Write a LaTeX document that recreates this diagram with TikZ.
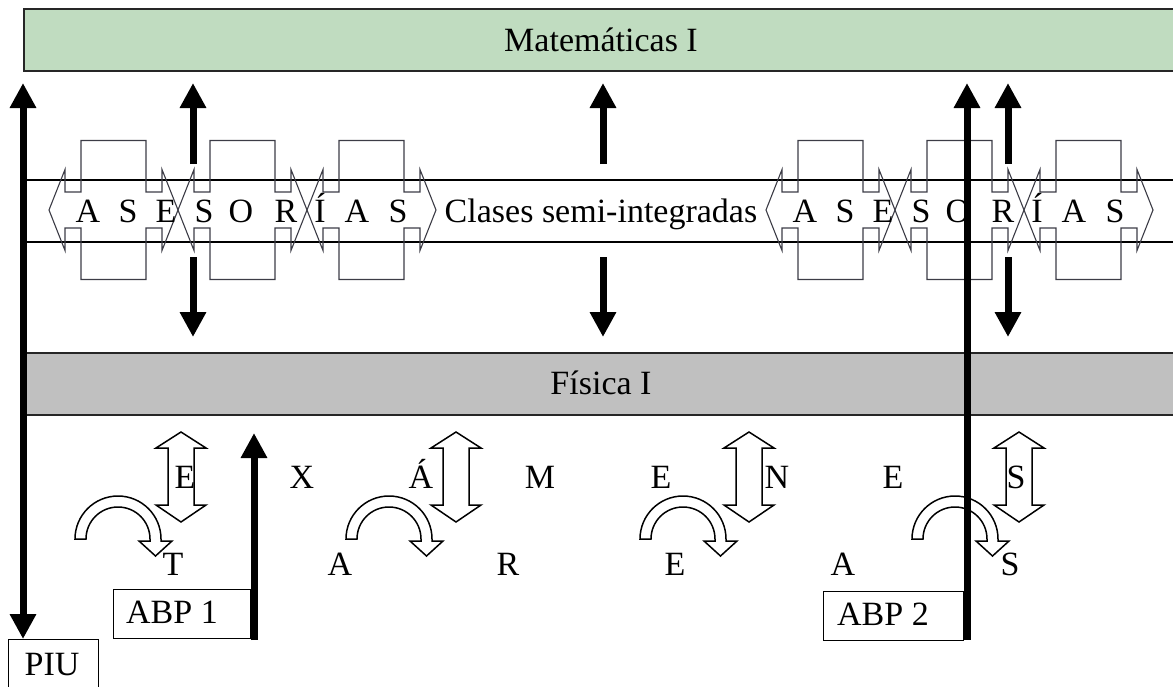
\documentclass[tikz,border=0pt]{standalone}
\usepackage{fontspec}
\setmainfont{Liberation Serif}
\usetikzlibrary{arrows.meta}
\definecolor{matgreen}{RGB}{192,220,192}
\definecolor{fisgray}{RGB}{192,192,192}
\definecolor{shapeline}{RGB}{60,60,70}
\begin{document}
\begin{tikzpicture}[x=1pt,y=-1pt,
  font=\fontsize{34}{40}\selectfont,
  band/.style={draw=black!85, line width=1.6pt, minimum width=1160pt,
    minimum height=62pt, anchor=north west, inner sep=0pt},
  letter/.style={inner sep=0pt, anchor=base},
  asesor/.style={draw=shapeline, line width=1.1pt, line join=miter},
  blockarrow/.style={draw=black, line width=1.5pt, line join=miter},
  frame/.style={draw=black, line width=1pt, inner sep=0pt, anchor=north west},
  heavy/.style={line width=7pt, -{Triangle[width=25pt,length=25pt]}},
  heavyboth/.style={line width=7pt,
    {Triangle[width=25pt,length=25pt]}-{Triangle[width=25pt,length=25pt]}},
  rail/.style={draw=black, line width=1.4pt}]
\useasboundingbox (0,0) rectangle (1173,686);
\clip (0,0) rectangle (1173,686);

% subject bands
\node[band, fill=matgreen] (mat) at (23,8) {};
\node[letter] (matlabel) at (601,51) {Matemáticas I};
\node[band, fill=fisgray] (fis) at (23,352) {};
\node[letter] (fislabel) at (601,394) {Física I};

% rails of the semi-integrated classes
\coordinate (railAw) at (23,180);
\coordinate (railAe) at (1173,180);
\coordinate (railBw) at (23,242);
\coordinate (railBe) at (1173,242);
\draw[rail] (railAw) -- (railAe);
\draw[rail] (railBw) -- (railBe);

% tutoring callouts (left-right arrow callouts)
\foreach \cx in {113.5,242.5,371.5,830.5,959.5,1088.5}{
  \draw[asesor] ({\cx-64.5},210) -- ({\cx-48.5},169.5) -- ({\cx-48.5},192)
    -- ({\cx-32.5},192) -- ({\cx-32.5},140.5) -- ({\cx+32.5},140.5)
    -- ({\cx+32.5},192) -- ({\cx+48.5},192) -- ({\cx+48.5},169.5)
    -- ({\cx+64.5},210) -- ({\cx+48.5},250.5) -- ({\cx+48.5},228)
    -- ({\cx+32.5},228) -- ({\cx+32.5},279.5) -- ({\cx-32.5},279.5)
    -- ({\cx-32.5},228) -- ({\cx-48.5},228) -- ({\cx-48.5},250.5) -- cycle;
}
\foreach \sh in {0,717}{
  \foreach \lx/\ch in {88/A,128/S,166/E,204/S,241/O,286/R,320/Í,357/A,398/S}{
    \node[letter] at ({\lx+\sh},222) {\ch};
  }
}
\node[letter] (clases) at (601,222) {Clases semi-integradas};

% exams: up-down block arrows
\foreach \cx in {181,456,749,1019}{
  \draw[blockarrow] (\cx,432) -- ({\cx+25},448) -- ({\cx+13},448)
    -- ({\cx+13},505) -- ({\cx+25},505) -- (\cx,522) -- ({\cx-25},505)
    -- ({\cx-13},505) -- ({\cx-13},448) -- ({\cx-25},448) -- cycle;
}
% assignments: U-turn block arrows
\foreach \cx in {118,389,683,955}{
  \draw[blockarrow] ({\cx-43},539) arc[start angle=180, end angle=0, radius=43pt]
    -- ({\cx+43},541) -- ({\cx+54},541) -- ({\cx+37.5},556) -- ({\cx+21},541)
    -- ({\cx+32},541) -- ({\cx+32},539)
    arc[start angle=0, end angle=180, radius=32pt] -- cycle;
}

\foreach \lx/\ch in {185/E,302/X,421/Á,540/M,661/E,777/N,893/E,1016/S}{
  \node[letter] at (\lx,488) {\ch};
}
\foreach \lx/\ch in {173/T,340/A,508/R,675/E,843/A,1010/S}{
  \node[letter] at (\lx,575) {\ch};
}

% project boxes
\node[frame, minimum width=90pt, minimum height=52pt] (piu) at (8,639) {};
\node[letter] (piulabel) at (52,675) {PIU};
\node[frame, minimum width=137pt, minimum height=49pt] (abp1) at (113,589) {};
\node[letter] (abp1label) at (172,623) {ABP 1};
\node[frame, minimum width=140pt, minimum height=49pt] (abp2) at (823,591) {};
\node[letter] (abp2label) at (883,625) {ABP 2};

% links between the subjects
\coordinate (piuTop) at (23,639);
\coordinate (matLeft) at (23,83);
\draw[heavyboth] (matLeft) -- (piuTop);

\foreach \ax in {193,603,1008}{
  \draw[heavy] (\ax,164) -- (\ax,83);
  \draw[heavy] (\ax,257) -- (\ax,337);
}

\coordinate (abp1Foot) at (254,640);
\coordinate (abp1Tip) at (254,433);
\draw[heavy] (abp1Foot) -- (abp1Tip);

\coordinate (abp2Foot) at (967,640);
\coordinate (abp2Tip) at (967,83);
\draw[heavy] (abp2Foot) -- (abp2Tip);
\end{tikzpicture}
\end{document}
